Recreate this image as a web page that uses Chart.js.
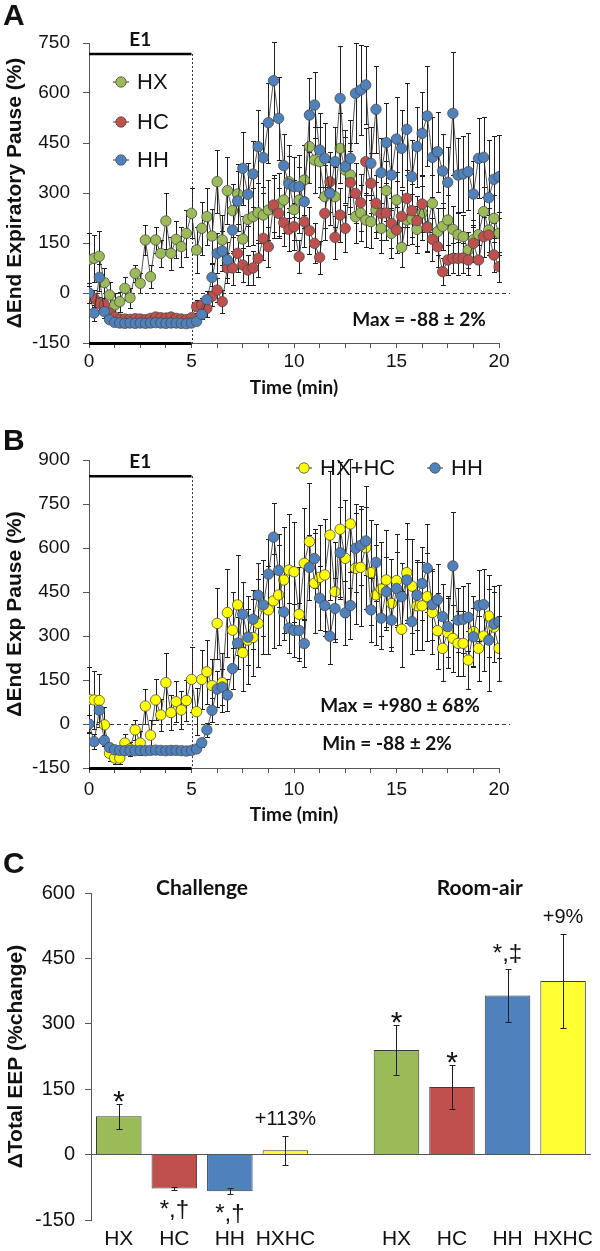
<!DOCTYPE html>
<html>
<head>
<meta charset="utf-8">
<script src="https://cdn.jsdelivr.net/npm/chart.js@4"></script>
<style>
  html, body { margin: 0; padding: 0; background: #fff; width: 600px; height: 1251px; overflow: hidden; }
  canvas { position: absolute; left: 0; }
</style>
</head>
<body>
<canvas id="chartA" width="600" height="405" style="top:0px"></canvas>
<canvas id="chartB" width="600" height="420" style="top:410px"></canvas>
<canvas id="chartC" width="600" height="421" style="top:830px"></canvas>
<script>
// time bins (min)
var time = [
  0, 0.25, 0.5, 0.75, 1, 1.25, 1.5, 1.75, 2, 2.25,
  2.5, 2.75, 3, 3.25, 3.5, 3.75, 4, 4.25, 4.5, 4.75,
  5, 5.25, 5.5, 5.75, 6, 6.25, 6.5, 6.75, 7, 7.25,
  7.5, 7.75, 8, 8.25, 8.5, 8.75, 9, 9.25, 9.5, 9.75,
  10, 10.25, 10.5, 10.75, 11, 11.25, 11.5, 11.75, 12, 12.25,
  12.5, 12.75, 13, 13.25, 13.5, 13.75, 14, 14.25, 14.5, 14.75,
  15, 15.25, 15.5, 15.75, 16, 16.25, 16.5, 16.75, 17, 17.25,
  17.5, 17.75, 18, 18.25, 18.5, 18.75, 19, 19.25, 19.5, 19.75,
  20
];

// ΔEEP (%) mean and SEM per group
var hxMean = [
  100, 104, 110, 31, -6, -36, -26, 14, -14, 59,
  29, 159, 49, 159, 119, 216, 119, 161, 139, 179,
  239, 129, 194, 229, 171, 334, 159, 307, 247, 297,
  162, 221, 229, 241, 234, 249, 259, 265, 279, 334,
  250, 279, 339, 439, 399, 394, 289, 300, 289, 434,
  369, 354, 229, 240, 219, 214, 249, 194, 307, 179,
  279, 137, 219, 222, 191, 240, 199, 269, 184, 200,
  219, 191, 175, 169, 129, 160, 175, 244, 189, 224,
  179
];
var hxSem = [
  80, 70, 75, 45, 40, 35, 30, 35, 30, 25,
  30, 45, 35, 40, 40, 85, 50, 55, 60, 70,
  75, 70, 80, 85, 80, 95, 75, 100, 80, 90,
  70, 80, 85, 90, 85, 90, 95, 95, 100, 110,
  90, 100, 105, 110, 100, 105, 95, 95, 90, 105,
  100, 95, 80, 85, 80, 80, 85, 75, 90, 75,
  85, 60, 75, 75, 70, 80, 75, 85, 70, 70,
  75, 70, 65, 65, 55, 60, 65, 75, 65, 70,
  65
];
var hcMean = [
  -5, -16, -31, -35, -60, -72, -78, -78, -79, -77,
  -78, -80, -76, -72, -74, -75, -72, -76, -78, -80,
  -74, -41, -36, -46, -10, 9, -26, 75, 75, 119,
  84, 69, 75, 104, 164, 139, 264, 239, 211, 191,
  199, 109, 214, 187, 149, 107, 239, 334, 167, 234,
  194, 331, 299, 271, 394, 329, 269, 239, 240, 209,
  189, 230, 284, 247, 217, 267, 196, 161, 139, 64,
  99, 104, 104, 105, 99, 149, 99, 169, 174, 114,
  79
];
var hcSem = [
  25, 25, 20, 20, 15, 10, 8, 8, 8, 8,
  8, 8, 8, 8, 8, 8, 8, 8, 8, 8,
  10, 20, 20, 25, 30, 35, 35, 45, 50, 55,
  50, 45, 50, 55, 65, 60, 80, 75, 70, 65,
  70, 50, 75, 70, 60, 50, 80, 90, 65, 80,
  70, 95, 90, 85, 100, 90, 85, 80, 80, 75,
  70, 80, 85, 80, 75, 85, 70, 65, 60, 40,
  45, 45, 50, 45, 45, 55, 45, 60, 60, 50,
  45
];
var hhMean = [
  0, -60, 47, -56, -80, -88, -90, -91, -90, -91,
  -90, -91, -90, -89, -90, -91, -90, -90, -91, -92,
  -90, -85, -64, -20, 47, 119, 126, 99, 189, 276,
  374, 296, 357, 439, 406, 511, 637, 524, 382, 327,
  319, 319, 274, 534, 564, 429, 404, 299, 394, 584,
  379, 404, 599, 609, 624, 389, 551, 361, 451, 354,
  462, 434, 491, 349, 439, 479, 531, 407, 424, 366,
  332, 539, 354, 357, 364, 297, 404, 407, 286, 341,
  349
];
var hhSem = [
  30, 25, 40, 20, 10, 5, 5, 5, 5, 5,
  5, 5, 5, 5, 5, 5, 5, 5, 5, 5,
  5, 8, 15, 25, 40, 60, 60, 55, 70, 90,
  110, 95, 100, 110, 105, 120, 117, 125, 95, 85,
  90, 95, 80, 110, 100, 110, 105, 95, 105, 157,
  110, 115, 150, 135, 117, 110, 130, 105, 120, 105,
  125, 115, 138, 110, 120, 125, 150, 120, 120, 110,
  105, 185, 110, 115, 115, 100, 120, 120, 173, 130,
  125
];
var hxhcMean = [
  84, 82, 80, -3, -100, -116, -116, -65, -85, -20,
  -65, 61, -38, 82, 31, 141, 39, 76, 48, 80,
  152, 42, 152, 178, 131, 343, 141, 380, 320, 406,
  243, 286, 295, 343, 400, 389, 420, 440, 491, 525,
  519, 374, 548, 622, 480, 500, 508, 644, 451, 664,
  565, 682, 531, 534, 601, 516, 440, 460, 491, 411,
  489, 323, 516, 470, 403, 403, 434, 380, 318, 258,
  311, 292, 275, 275, 218, 315, 258, 300, 368, 330,
  258
];
var hxhcSem = [
  110, 100, 90, 60, 25, 20, 20, 30, 25, 35,
  40, 60, 50, 70, 55, 100, 60, 70, 65, 70,
  110, 80, 100, 110, 90, 120, 100, 150, 130, 170,
  130, 150, 130, 150, 160, 150, 160, 170, 180, 190,
  170, 160, 190, 200, 170, 180, 190, 220, 170, 230,
  200, 220, 190, 200, 210, 180, 170, 160, 170, 150,
  160, 130, 170, 160, 150, 150, 150, 140, 130, 110,
  120, 115, 110, 110, 100, 120, 110, 120, 140, 120,
  110
];

// panel C: total EEP change
var barLabels = ['HX', 'HC', 'HH', 'HXHC', '', 'HX', 'HC', 'HH', 'HXHC'];
var barValues = [88, -78, -84, 10, null, 240, 155, 365, 398];
var barErrors = [29, 4, 7, 33, null, 58, 50, 60, 107];
var barNotes = ['*', '*,†', '*,†', '+113%', '', '*', '*', '*,‡', '+9%'];

var GREEN = '#9bbb59', RED = '#c0504d', BLUE = '#4f81bd', YELLOW = '#ffff00';
var AXIS = '#555555';

Chart.defaults.font.family = "'Liberation Sans', Arial, sans-serif";
Chart.defaults.color = '#111111';
Chart.defaults.animation = false;

function series(label, means, sems, color, order) {
  return {
    label: label,
    data: time.map(function(t, i) { return { x: t, y: means[i] }; }),
    sem: sems,
    order: order,
    borderColor: '#2b2b2b',
    borderWidth: 0.8,
    pointRadius: 5.2,
    pointHoverRadius: 5.2,
    pointBackgroundColor: color,
    pointBorderColor: '#4a4a4a',
    pointBorderWidth: 0.8,
    tension: 0
  };
}

function errorBars(cap, after) {
  function draw(chart) {
    var ctx = chart.ctx;
    ctx.save();
    ctx.strokeStyle = '#1e1e1e';
    ctx.lineWidth = 1;
    chart.data.datasets.forEach(function(ds, di) {
      if (!ds.sem) return;
      var meta = chart.getDatasetMeta(di);
      var ys = chart.scales[meta.yAxisID];
      meta.data.forEach(function(el, i) {
        var raw = ds.data[i];
        var v = (raw !== null && typeof raw === 'object') ? raw.y : raw;
        var e = ds.sem[i];
        if (v == null || e == null) return;
        var x = Math.round(el.x) + 0.5;
        var top = Math.round(ys.getPixelForValue(v + e)) + 0.5;
        var bot = Math.round(ys.getPixelForValue(v - e)) + 0.5;
        ctx.beginPath();
        ctx.moveTo(x, top); ctx.lineTo(x, bot);
        ctx.moveTo(x - cap, top); ctx.lineTo(x + cap, top);
        ctx.moveTo(x - cap, bot); ctx.lineTo(x + cap, bot);
        ctx.stroke();
      });
    });
    ctx.restore();
  }
  return after ? { id: 'errorBars', afterDatasetsDraw: draw } : { id: 'errorBars', beforeDatasetsDraw: draw };
}

// E1 exposure marks, zero line, notes and legend for the time panels
function exposureDecor(cfg) {
  return {
    id: 'exposureDecor',
    beforeDatasetsDraw: function(chart) {
      var ctx = chart.ctx, a = chart.chartArea, x = chart.scales.x, y = chart.scales.y;
      ctx.save();
      ctx.strokeStyle = '#333';
      ctx.lineWidth = 1;
      ctx.setLineDash([4, 3]);
      var y0 = Math.round(y.getPixelForValue(0)) + 0.5;
      ctx.beginPath(); ctx.moveTo(a.left, y0); ctx.lineTo(a.right + 11, y0); ctx.stroke();
      var yBar = y.getPixelForValue(cfg.barValue);
      var x5 = Math.round(x.getPixelForValue(5)) + 0.5;
      ctx.setLineDash([2, 2]);
      ctx.beginPath(); ctx.moveTo(x5, yBar); ctx.lineTo(x5, a.bottom); ctx.stroke();
      ctx.restore();
    },
    afterDraw: function(chart) {
      var ctx = chart.ctx, a = chart.chartArea, x = chart.scales.x, y = chart.scales.y;
      ctx.save();
      var yBar = y.getPixelForValue(cfg.barValue);
      var x0 = x.getPixelForValue(0), x5 = x.getPixelForValue(5);
      ctx.strokeStyle = '#000';
      ctx.lineWidth = 2.5;
      ctx.beginPath(); ctx.moveTo(x0, yBar); ctx.lineTo(x5, yBar); ctx.stroke();
      ctx.lineWidth = 3;
      ctx.beginPath(); ctx.moveTo(x0, a.bottom + 0.5); ctx.lineTo(x5, a.bottom + 0.5); ctx.stroke();

      ctx.fillStyle = '#111';
      ctx.textAlign = 'center';
      ctx.textBaseline = 'alphabetic';
      ctx.font = 'bold 19px Lato';
      ctx.fillText('E1', (x0 + x5) / 2, yBar - 8);

      ctx.textAlign = 'left';
      ctx.font = "bold 30px 'Liberation Sans'";
      ctx.fillText(cfg.letter, 3, cfg.letterY);

      ctx.textAlign = 'center';
      ctx.textBaseline = 'middle';
      ctx.font = 'bold 19px Lato';
      cfg.notes.forEach(function(n) {
        ctx.fillText(n.text, x.getPixelForValue(n.t), y.getPixelForValue(n.v));
      });

      ctx.textAlign = 'left';
      ctx.font = "22px 'Liberation Sans'";
      cfg.legend.forEach(function(item) {
        var ds = chart.data.datasets[item.index];
        ctx.strokeStyle = '#333'; ctx.lineWidth = 1;
        ctx.beginPath(); ctx.moveTo(item.x - 8, item.y); ctx.lineTo(item.x + 8, item.y); ctx.stroke();
        ctx.beginPath(); ctx.arc(item.x, item.y, 5.2, 0, Math.PI * 2);
        ctx.fillStyle = ds.pointBackgroundColor; ctx.fill();
        ctx.strokeStyle = '#4a4a4a'; ctx.lineWidth = 0.8; ctx.stroke();
        ctx.fillStyle = '#111';
        ctx.fillText(ds.label, item.x + 16, item.y + 1);
      });
      ctx.restore();
    }
  };
}

function timeOptions(o) {
  return {
    responsive: false,
    layout: { padding: { top: o.padTop, right: 101, bottom: 0, left: 0 } },
    plugins: { legend: { display: false }, tooltip: { enabled: false } },
    scales: {
      x: {
        type: 'linear', min: 0, max: 20,
        afterFit: function(s) { s.height = 62; },
        border: { color: AXIS, width: 1 },
        grid: { drawOnChartArea: false, tickLength: 5, color: AXIS },
        ticks: {
          stepSize: 1.25, maxTicksLimit: 17, autoSkip: false, maxRotation: 0,
          padding: o.xPad, font: { size: 19 }, color: '#111',
          callback: function(v) { return Math.abs(v % 5) < 1e-6 ? v : ''; }
        },
        title: { display: true, text: 'Time (min)', color: '#111',
          font: { family: 'Lato', weight: 'bold', size: 19 }, padding: { top: 0, bottom: o.titlePad } }
      },
      y: {
        min: -150, max: o.yMax,
        afterFit: function(s) { s.width = 89; },
        border: { color: AXIS, width: 1 },
        grid: { drawOnChartArea: false, tickLength: 6, color: AXIS },
        ticks: { stepSize: 150, padding: 13, font: { size: 19 }, color: '#111' },
        title: { display: true, text: o.yTitle, color: '#111',
          font: { weight: 'bold', size: 21 }, padding: { top: 3, bottom: 0 } }
      }
    }
  };
}

new Chart(document.getElementById('chartA'), {
  type: 'line',
  data: {
    datasets: [
      series('HX', hxMean, hxSem, GREEN, 2),
      series('HC', hcMean, hcSem, RED, 1),
      series('HH', hhMean, hhSem, BLUE, 0)
    ]
  },
  options: timeOptions({ padTop: 43, yMax: 750, xPad: 2, titlePad: 6, yTitle: 'ΔEnd Expiratory Pause (%)' }),
  plugins: [
    errorBars(2.5, false),
    exposureDecor({
      letter: 'A', letterY: 25, barValue: 717,
      notes: [{ text: 'Max = -88 ± 2%', t: 16.1, v: -81 }],
      legend: [{ index: 0, x: 121, y: 82 }, { index: 1, x: 121, y: 122 }, { index: 2, x: 121, y: 160 }]
    })
  ]
});

new Chart(document.getElementById('chartB'), {
  type: 'line',
  data: {
    datasets: [
      series('HX+HC', hxhcMean, hxhcSem, YELLOW, 1),
      series('HH', hhMean, hhSem, BLUE, 0)
    ]
  },
  options: timeOptions({ padTop: 50, yMax: 900, xPad: 5, titlePad: 4, yTitle: 'ΔEnd Exp Pause (%)' }),
  plugins: [
    errorBars(2.5, false),
    exposureDecor({
      letter: 'B', letterY: 40, barValue: 845,
      notes: [{ text: 'Max = +980 ± 68%', t: 15.17, v: 61 }, { text: 'Min = -88 ± 2%', t: 14.54, v: -68 }],
      legend: [{ index: 0, x: 304, y: 58 }, { index: 1, x: 435, y: 58 }]
    })
  ]
});

var barDecor = {
  id: 'barDecor',
  afterDraw: function(chart) {
    var ctx = chart.ctx, a = chart.chartArea, y = chart.scales.y;
    var meta = chart.getDatasetMeta(0);
    ctx.save();
    ctx.fillStyle = '#111';
    ctx.textAlign = 'center';
    ctx.textBaseline = 'alphabetic';
    barNotes.forEach(function(note, i) {
      if (!note) return;
      var v = barValues[i], e = barErrors[i];
      var bx = meta.data[i].x, by;
      if (note.charAt(0) === '+') {
        ctx.font = "20px 'Liberation Sans'";
        by = y.getPixelForValue(v + e) - 11;
      } else if (v < 0) {
        ctx.font = "24px 'Liberation Sans'";
        by = y.getPixelForValue(v - e) + 27;
      } else if (note === '*') {
        ctx.font = "30px 'Liberation Sans'";
        by = y.getPixelForValue(v + e) + 7;
      } else {
        ctx.font = "24px 'Liberation Sans'";
        by = y.getPixelForValue(v + e) - 8;
      }
      ctx.fillText(note, bx, by);
    });
    ctx.font = 'bold 21px Lato';
    ctx.fillText('Challenge', (meta.data[1].x + meta.data[2].x) / 2, a.top + 2);
    ctx.fillText('Room-air', (meta.data[6].x + meta.data[7].x) / 2, a.top + 2);
    ctx.textAlign = 'left';
    ctx.font = "bold 30px 'Liberation Sans'";
    ctx.fillText('C', 3, 43);
    ctx.restore();
  }
};

new Chart(document.getElementById('chartC'), {
  type: 'bar',
  data: {
    labels: barLabels,
    datasets: [{
      data: barValues,
      sem: barErrors,
      backgroundColor: [GREEN, RED, BLUE, '#ffff33', GREEN, GREEN, RED, BLUE, '#ffff33'],
      borderColor: '#3c3c3c',
      borderWidth: 1,
      barPercentage: 0.82,
      categoryPercentage: 1
    }]
  },
  options: {
    responsive: false,
    layout: { padding: { top: 63, right: 3, bottom: 0, left: 0 } },
    plugins: { legend: { display: false }, tooltip: { enabled: false } },
    scales: {
      x: {
        afterFit: function(s) { s.height = 31; },
        grid: { display: false, drawTicks: false },
        border: { display: false },
        ticks: { font: { size: 21 }, padding: 7, color: '#111', autoSkip: false, maxRotation: 0 }
      },
      y: {
        min: -150, max: 600,
        afterFit: function(s) { s.width = 91; },
        border: { color: AXIS, width: 1 },
        grid: {
          color: function(c) { return c.tick && c.tick.value === 0 ? AXIS : 'rgba(0,0,0,0)'; },
          tickColor: AXIS, tickLength: 6
        },
        ticks: { stepSize: 150, font: { size: 20 }, padding: 10, color: '#111' },
        title: { display: true, text: 'ΔTotal EEP (%change)', color: '#111',
          font: { weight: 'bold', size: 21 }, padding: { top: 4, bottom: 0 } }
      }
    }
  },
  plugins: [errorBars(3, true), barDecor]
});
</script>
</body>
</html>
